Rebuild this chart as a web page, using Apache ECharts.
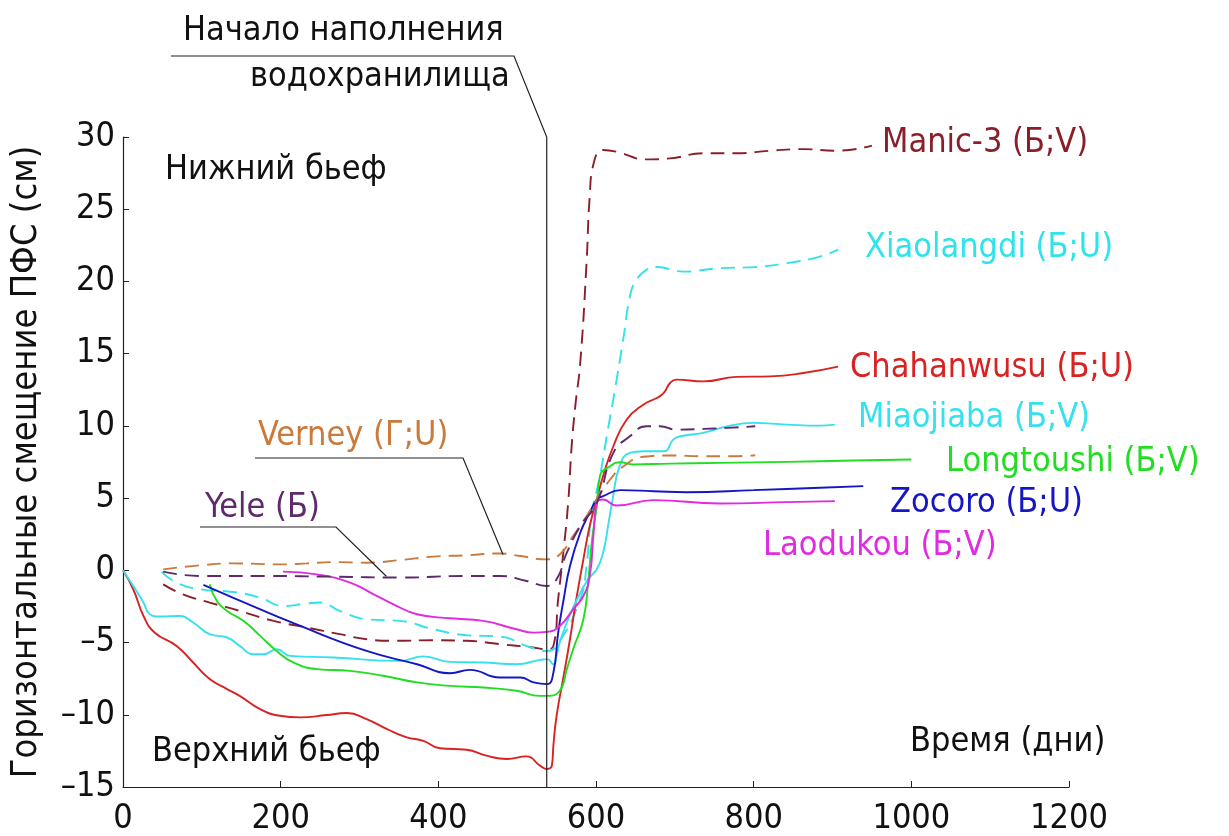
<!DOCTYPE html>
<html>
<head>
<meta charset="utf-8">
<script src="https://cdn.jsdelivr.net/npm/echarts@6/dist/echarts.min.js"></script>
<style>
html,body{margin:0;padding:0;background:#fff;}
#main{width:1229px;height:836px;}
</style>
</head>
<body>
<div id="main"></div>
<script>
// ---- data (days, displacement cm) ----
const xTicks = [0, 200, 400, 600, 800, 1000, 1200];
const yTicks = [-15, -10, -5, 0, 5, 10, 15, 20, 25, 30];
const fillingStartDay = 537.5;

const manic3 = [[51,-0.97],[76,-1.66],[110,-2.23],[148,-2.81],[191,-3.5],[233,-3.96],[275,-4.42],[309,-4.77],[343,-4.88],[394,-4.84],[436,-4.88],[478,-5.11],[520,-5.34],[537,-5.46],[546,-5.23],[552,-2.0],[559,1.45],[565,4.9],[569,8.5],[574,11.5],[580,14.35],[588,21.27],[592,25.87],[597,28.17],[609,29.1],[626,28.98],[664,28.45],[694,28.52],[736,28.87],[778,28.87],[821,29.05],[863,29.16],[905,29.05],[950,29.4]];
const xiaolangdi = [[49,-0.11],[68,-0.85],[98,-1.31],[140,-1.5],[174,-1.89],[203,-2.47],[233,-2.3],[250,-2.23],[275,-2.81],[309,-3.39],[351,-3.5],[394,-4.08],[436,-4.49],[478,-4.58],[512,-5.23],[537,-5.58],[550,-5.23],[580,-2.0],[588,0.3],[594,3.75],[605,6.52],[614,9.4],[624,12.5],[634,15.8],[643,18.96],[650,20.0],[664,20.8],[677,21.0],[711,20.68],[757,20.92],[800,20.99],[842,21.27],[884,21.72],[907,22.2]];
const chahanwusu = [[0,0],[13,-1.31],[26,-3.16],[40,-4.3],[68,-5.23],[89,-6.38],[110,-7.53],[132,-8.22],[148,-8.69],[174,-9.61],[199,-10.07],[225,-10.18],[258,-10.02],[284,-9.88],[309,-10.3],[335,-10.99],[360,-11.56],[381,-11.8],[402,-12.32],[436,-12.42],[461,-12.83],[487,-13.06],[512,-12.88],[529,-13.52],[538,-13.75],[544,-13.52],[546,-12.1],[550,-10.07],[559,-7.3],[567,-4.77],[575,-2.0],[584,0.76],[592,3.06],[601,4.9],[609,6.52],[622,8.59],[639,10.44],[660,11.47],[677,11.93],[686,12.28],[694,12.97],[702,13.2],[736,13.08],[778,13.39],[821,13.43],[863,13.66],[907,14.1]];
const miaojiaba = [[0,0],[13,-1.08],[26,-2.23],[34,-3.04],[47,-3.2],[72,-3.16],[89,-3.61],[110,-4.42],[132,-4.65],[148,-5.23],[165,-5.81],[178,-5.81],[195,-5.46],[212,-5.92],[267,-6.03],[351,-6.27],[381,-5.96],[415,-6.34],[457,-6.38],[499,-6.5],[529,-6.2],[538,-6.15],[546,-6.5],[549,-6.1],[554,-5.0],[563,-3.61],[576,-2.0],[590,-0.62],[601,0.07],[609,1.22],[616,3.3],[621,4.9],[630,7.21],[643,8.13],[660,8.24],[686,8.24],[698,9.05],[707,9.28],[736,9.52],[766,9.97],[800,10.21],[842,10.09],[884,10.02],[903,10.09]];
const longtoushi = [[110,-0.97],[119,-2.12],[132,-2.81],[153,-3.5],[174,-4.54],[195,-5.58],[216,-6.38],[246,-6.84],[288,-6.96],[330,-7.3],[373,-7.76],[415,-8.0],[457,-8.11],[499,-8.34],[529,-8.69],[538,-8.69],[554,-8.34],[563,-6.84],[571,-5.46],[584,-3.39],[590,-0.85],[595,2.14],[601,4.44],[605,6.52],[618,7.21],[631,7.48],[647,7.33],[694,7.39],[757,7.44],[842,7.51],[926,7.6],[1000,7.67]];
const zocoro = [[102,-1.01],[140,-1.9],[225,-3.85],[309,-5.58],[373,-6.5],[415,-7.12],[440,-6.89],[478,-7.42],[504,-7.42],[521,-7.76],[538,-7.88],[546,-7.07],[552,-4.31],[559,-2.0],[567,0.3],[580,2.6],[592,3.99],[601,4.9],[609,5.13],[631,5.55],[673,5.48],[715,5.41],[800,5.55],[884,5.72],[939,5.83]];
const laodukou = [[203,-0.09],[246,-0.28],[288,-0.85],[318,-1.66],[343,-2.35],[373,-3.04],[415,-3.32],[457,-3.5],[499,-4.08],[521,-4.31],[538,-4.26],[554,-3.85],[571,-2.7],[584,-1.78],[592,-0.39],[597,2.6],[601,4.68],[609,4.9],[626,4.49],[673,4.86],[757,4.63],[842,4.72],[903,4.79]];
const verney = [[51,0.07],[98,0.35],[140,0.48],[203,0.41],[233,0.48],[267,0.57],[309,0.53],[351,0.71],[394,0.95],[436,1.04],[478,1.17],[504,0.99],[537,0.76],[554,1.1],[571,2.37],[588,3.75],[601,4.9],[618,6.29],[635,7.21],[660,7.86],[694,7.95],[736,7.9],[774,7.9],[802,7.97]];
const yele = [[51,-0.09],[98,-0.39],[182,-0.39],[267,-0.44],[351,-0.5],[436,-0.39],[478,-0.39],[512,-0.74],[537,-1.08],[550,-0.62],[563,1.22],[580,3.06],[601,4.68],[622,8.13],[643,9.28],[664,9.97],[681,9.97],[702,9.74],[736,9.79],[766,9.86],[802,9.97]];

const seriesNames = ['Manic-3 (Б;V)','Xiaolangdi (Б;U)','Chahanwusu (Б;U)','Miaojiaba (Б;V)','Longtoushi (Б;V)','Zocoro (Б;U)','Laodukou (Б;V)','Verney (Г;U)','Yele (Б)'];
const FONT = '"DejaVu Sans Condensed", "Liberation Sans Narrow", sans-serif';

const colors = {
  manic: '#8a1f2b', xiao: '#2fe3ea', chah: '#d92222', miao: '#36e0ee',
  long: '#22dd22', zoc: '#1616c4', lao: '#e02be0', ver: '#c97a3c', yele: '#5e2a6c'
};

function line(name, data, color, dashed) {
  return {
    name, type: 'line', data, showSymbol: false, symbol: 'none',
    smooth: 0.5,
    lineStyle: { color, width: 1.9, type: dashed ? [14, 8] : 'solid' },
    emphasis: { disabled: true }, silent: true, z: 3
  };
}

const chart = echarts.init(document.getElementById('main'), null, { renderer: 'canvas' });
chart.setOption({
  animation: false,
  backgroundColor: '#ffffff',
  grid: { left: 123, right: 160, top: 137, bottom: 48, containLabel: false },
  xAxis: {
    type: 'value', min: xTicks[0], max: xTicks[xTicks.length - 1], interval: 200,
    axisLine: { show: true, onZero: false, lineStyle: { color: '#222', width: 1.2 } },
    axisTick: { show: true, inside: true, length: 6, lineStyle: { color: '#222' } },
    splitLine: { show: false },
    axisLabel: { color: '#111', fontFamily: FONT, fontSize: 34, margin: 15, formatter: v => String(v) }
  },
  yAxis: {
    type: 'value', min: yTicks[0], max: yTicks[yTicks.length - 1], interval: 5,
    name: 'Горизонтальные смещение ПФС (см)', nameLocation: 'middle', nameGap: 78,
    nameTextStyle: { color: '#111', fontFamily: FONT, fontSize: 36 },
    axisLine: { show: true, onZero: false, lineStyle: { color: '#222', width: 1.2 } },
    axisTick: { show: true, inside: true, length: 6, lineStyle: { color: '#222' } },
    splitLine: { show: false },
    axisLabel: { color: '#111', fontFamily: FONT, fontSize: 34, margin: 8,
      formatter: v => String(v).replace('-', '\u2013') }
  },
  series: [
    line(seriesNames[0], manic3, colors.manic, true),
    line(seriesNames[1], xiaolangdi, colors.xiao, true),
    line(seriesNames[2], chahanwusu, colors.chah, false),
    line(seriesNames[3], miaojiaba, colors.miao, false),
    line(seriesNames[4], longtoushi, colors.long, false),
    line(seriesNames[5], zocoro, colors.zoc, false),
    line(seriesNames[6], laodukou, colors.lao, false),
    line(seriesNames[7], verney, colors.ver, true),
    line(seriesNames[8], yele, colors.yele, true)
  ]
});

// annotations
const px = (d, v) => chart.convertToPixel({ xAxisIndex: 0, yAxisIndex: 0 }, [d, v]);
const vx = px(fillingStartDay, 0)[0];
const yBottom = px(0, -15)[1];
const verEnd = px(482, 1.1);
const yeleEnd = px(334, -0.41);

function txt(text, x, y, color) {
  return { type: 'text', x, y, style: { text, fill: color, font: '34px ' + FONT, textVerticalAlign: 'middle', textAlign: 'left' }, z: 10 };
}
function pl(points, color) {
  return { type: 'polyline', shape: { points }, style: { stroke: color || '#222', lineWidth: 1.2, fill: null }, z: 9 };
}

chart.setOption({
  graphic: [
    pl([[171, 56], [514, 56], [vx, 137], [vx, yBottom]]),
    txt('Начало наполнения', 183, 31, '#111'),
    txt('водохранилища', 250, 77, '#111'),
    txt('Нижний бьеф', 165, 170, '#111'),
    txt('Верхний бьеф', 152, 752, '#111'),
    txt('Время (дни)', 910, 742, '#111'),
    txt(seriesNames[0], 882, 143, colors.manic),
    txt(seriesNames[1], 865, 248, colors.xiao),
    txt(seriesNames[2], 850, 368, colors.chah),
    txt(seriesNames[3], 858, 418, colors.miao),
    txt(seriesNames[4], 946, 462, colors.long),
    txt(seriesNames[5], 890, 503, colors.zoc),
    txt(seriesNames[6], 763, 546, colors.lao),
    txt(seriesNames[7], 258, 436, colors.ver),
    txt(seriesNames[8], 205, 508, colors.yele),
    pl([[255, 458], [463, 458], verEnd]),
    pl([[200, 527], [336, 527], yeleEnd])
  ]
});
</script>
</body>
</html>
